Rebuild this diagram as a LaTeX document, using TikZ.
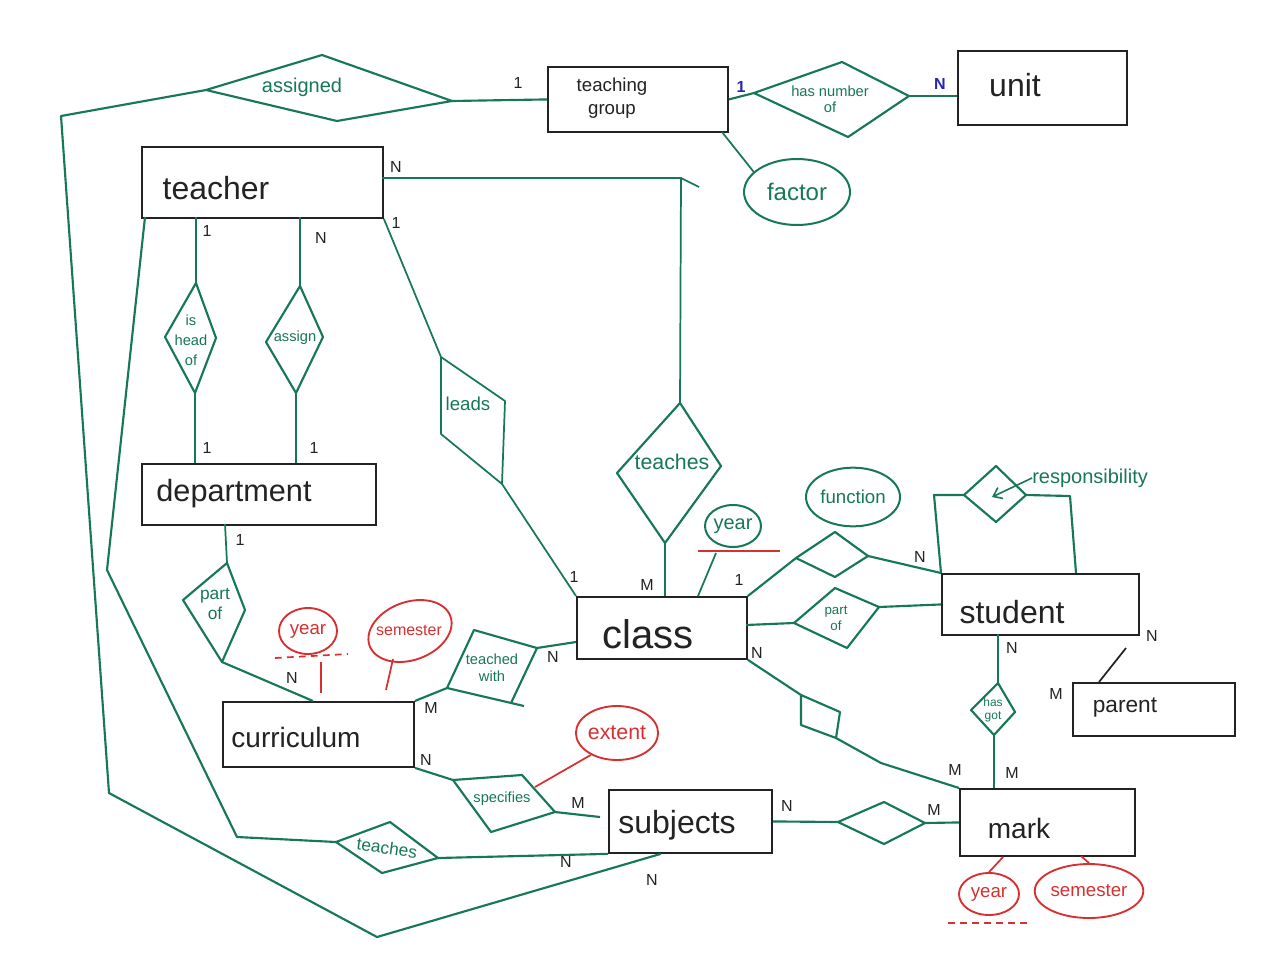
\documentclass[tikz,border=0pt]{standalone}
\usepackage{fontspec}
\setmainfont{Liberation Sans}
\usetikzlibrary{shapes.geometric,calc,arrows.meta}
\definecolor{mgreen}{RGB}{22,120,88}
\definecolor{mred}{RGB}{214,48,48}
\definecolor{mblack}{RGB}{35,35,35}
\definecolor{mblue}{RGB}{40,40,170}
\begin{document}
\begin{tikzpicture}[x=0.75pt,y=-0.75pt,
 ent/.style={draw=mblack,line width=1.4pt,rectangle,inner sep=0pt,anchor=north west},
 etxt/.style={text=mblack,inner sep=0pt},
 rel/.style={draw=mgreen,line width=1.6pt,line join=round},
 con/.style={draw=mgreen,line width=1.6pt,line join=round},
 rtxt/.style={text=mgreen,inner sep=0pt,align=center},
 card/.style={text=mblack,font=\fontsize{12}{12}\selectfont,inner sep=0pt},
 bcard/.style={text=mblue,font=\bfseries\fontsize{12}{12}\selectfont,inner sep=0pt},
 attr/.style={ellipse,draw=mgreen,line width=1.5pt,inner sep=0pt,text=mgreen},
 rattr/.style={ellipse,draw=mred,line width=1.4pt,inner sep=0pt,text=mred},
 rline/.style={draw=mred,line width=1.3pt}]
\useasboundingbox (0,0) rectangle (1280,971);
\fill[white] (0,0) rectangle (1280,971);

% ---------- entities ----------
\node[ent,minimum width=135pt,minimum height=48.75pt] (tgroup) at (547,66) {};
\node[ent,minimum width=126.75pt,minimum height=55.5pt] (unit) at (957,50) {};
\node[ent,minimum width=180.75pt,minimum height=53.25pt] (teacher) at (141,146) {};
\node[ent,minimum width=175.5pt,minimum height=45.75pt] (department) at (141,463) {};
\node[ent,minimum width=127.5pt,minimum height=46.5pt] (class) at (576,596) {};
\node[ent,minimum width=147.75pt,minimum height=45.75pt] (student) at (941,573) {};
\node[ent,minimum width=121.5pt,minimum height=39.75pt] (parent) at (1072,682) {};
\node[ent,minimum width=143.25pt,minimum height=48.75pt] (curriculum) at (222,701) {};
\node[ent,minimum width=122.25pt,minimum height=47.25pt] (subjects) at (608,789) {};
\node[ent,minimum width=131.25pt,minimum height=50.25pt] (mark) at (959,788) {};

\node[etxt,align=center,font=\fontsize{14}{17}\selectfont] (tgroupT) at (612,98) {teaching\\group};
\node[etxt,font=\fontsize{24}{24}\selectfont] (unitT) at (1015,85) {unit};
\node[etxt,font=\fontsize{24}{24}\selectfont] (teacherT) at (216,188) {teacher};
\node[etxt,font=\fontsize{23}{23}\selectfont] (departmentT) at (234,494) {department};
\node[etxt,font=\fontsize{30}{30}\selectfont] (classT) at (648,634) {class};
\node[etxt,font=\fontsize{24}{24}\selectfont] (studentT) at (1012,612) {student};
\node[etxt,font=\fontsize{17}{17}\selectfont] (parentT) at (1125,708) {parent};
\node[etxt,font=\fontsize{21}{21}\selectfont] (curriculumT) at (296,737) {curriculum};
\node[etxt,font=\fontsize{24}{24}\selectfont] (subjectsT) at (677,825) {subjects};
\node[etxt,font=\fontsize{21}{21}\selectfont] (markT) at (1019,828) {mark};

% ---------- assigned ----------
\coordinate (asgL) at (206,90); \coordinate (asgT) at (322,55);
\coordinate (asgR) at (452,101); \coordinate (asgB) at (337,121);
\draw[rel] (asgL) -- (asgT) -- (asgR) -- (asgB) -- cycle;
\node[rtxt,font=\fontsize{15}{15}\selectfont] (asgT2) at (302,87) {assigned};
\draw[con] (asgR) -- (tgroup.west);
\node[card] (c01) at (518,83) {1};
\coordinate (o1) at (61,116); \coordinate (o2) at (109,793); \coordinate (o3) at (377,937);
\coordinate (subjB) at ($(subjects.south west)!0.32!(subjects.south east)$);
\draw[con] (asgL) -- (o1) -- (o2) -- (o3) -- (subjB);
\node[card] (c02) at (652,880) {N};

% ---------- has number of ----------
\coordinate (hnL) at (754,93); \coordinate (hnT) at (842,62);
\coordinate (hnR) at (909,96); \coordinate (hnB) at (848,137);
\draw[rel] (hnL) -- (hnT) -- (hnR) -- (hnB) -- cycle;
\node[rtxt,font=\fontsize{11}{12}\selectfont] (hnTx) at (830,99) {has number\\of};
\draw[con] (tgroup.east) -- (hnL);
\draw[con] (hnR) -- (unit.west |- hnR);
\node[bcard] (c03) at (741,87) {1};
\node[bcard] (c04) at (940,84) {N};

% ---------- factor ----------
\node[attr,minimum width=79.5pt,minimum height=49.5pt,font=\fontsize{18}{18}\selectfont] (factor) at (797,192) {factor};
\coordinate (tgF) at (722,132);
\draw[con,line width=1.3pt] (tgF) -- (factor.155);

% ---------- teacher - teaches - class ----------
\coordinate (tA) at (382,178); \coordinate (tB) at (681,178); \coordinate (tBt) at (699,187);
\coordinate (tcT) at (680,403); \coordinate (tcR) at (721,466);
\coordinate (tcB) at (665,543); \coordinate (tcL) at (617,473);
\draw[rel] (tcT) -- (tcR) -- (tcB) -- (tcL) -- cycle;
\node[rtxt,font=\fontsize{16}{16}\selectfont] (tcTx) at (672,462) {teaches};
\draw[con,line width=1.3pt] (tA) -- (tB) -- (tcT);
\draw[con,line width=1.3pt] (tB) -- (tBt);
\coordinate (clT1) at (665,596);
\draw[con] (tcB) -- (clT1);
\node[card] (c05) at (396,167) {N};
\node[card] (c06) at (647,585) {M};

% ---------- is head of ----------
\coordinate (teaB1) at (196,217); \coordinate (depT1) at (195,463);
\coordinate (ihT) at (196,283); \coordinate (ihR) at (216,338);
\coordinate (ihB) at (195,393); \coordinate (ihL) at (165,337);
\draw[rel] (ihT) -- (ihR) -- (ihB) -- (ihL) -- cycle;
\node[rtxt,font=\fontsize{11}{15}\selectfont] (ihTx) at (191,340) {is\\head\\of};
\draw[con,line width=1.3pt] (teaB1) -- (ihT);
\draw[con,line width=1.3pt] (ihB) -- (depT1);
\node[card] (c07) at (207,231) {1};
\node[card] (c08) at (207,448) {1};

% ---------- assign ----------
\coordinate (teaB2) at (300,217); \coordinate (depT2) at (296,463);
\coordinate (asT) at (300,286); \coordinate (asR) at (323,337);
\coordinate (asB) at (296,393); \coordinate (asL) at (266,342);
\draw[rel] (asT) -- (asR) -- (asB) -- (asL) -- cycle;
\node[rtxt,font=\fontsize{11}{11}\selectfont] (asTx) at (295,338) {assign};
\draw[con,line width=1.3pt] (teaB2) -- (asT);
\draw[con,line width=1.3pt] (asB) -- (depT2);
\node[card] (c09) at (321,238) {N};
\node[card] (c10) at (314,448) {1};

% ---------- leads ----------
\coordinate (ldA) at (441,357); \coordinate (ldB) at (505,401);
\coordinate (ldC) at (502,484); \coordinate (ldD) at (441,434);
\draw[rel,line width=1.3pt] (ldA) -- (ldB) -- (ldC) -- (ldD) -- cycle;
\node[rtxt,font=\fontsize{14}{14}\selectfont] (ldTx) at (468,404) {leads};
\draw[con,line width=1.3pt] (teacher.south east) -- (ldA);
\draw[con,line width=1.3pt] (ldC) -- (class.north west);
\node[card] (c11) at (396,223) {1};
\node[card] (c12) at (574,577) {1};

% ---------- function ----------
\coordinate (fdT) at (835,532); \coordinate (fdR) at (868,556);
\coordinate (fdB) at (835,577); \coordinate (fdL) at (796,558);
\draw[rel] (fdT) -- (fdR) -- (fdB) -- (fdL) -- cycle;
\draw[con] (class.north east) -- (fdL);
\draw[con] (fdR) -- (student.north west);
\node[card] (c13) at (739,580) {1};
\node[card] (c14) at (920,557) {N};
\node[attr,minimum width=70.5pt,minimum height=44pt,font=\fontsize{14}{14}\selectfont] (function) at (853,497) {function};

% ---------- year (class) ----------
\node[attr,minimum width=42pt,minimum height=31.5pt,font=\fontsize{15}{15}\selectfont] (yearC) at (733,526) {year};
\coordinate (yu1) at (698,551); \coordinate (yu2) at (780,551);
\draw[rline] (yu1) -- (yu2);
\coordinate (yC1) at (716,553); \coordinate (clT2) at (698,596);
\draw[con,line width=1.3pt] (yC1) -- (clT2);

% ---------- part of (class - student) ----------
\coordinate (poA) at (794,623); \coordinate (poB) at (835,588);
\coordinate (poC) at (879,607); \coordinate (poD) at (847,648);
\draw[rel] (poA) -- (poB) -- (poC) -- (poD) -- cycle;
\node[rtxt,font=\fontsize{10}{12}\selectfont] (poTx) at (836,618) {part\\of};
\coordinate (clR1) at (746,625);
\draw[con] (clR1) -- (poA);
\draw[con] (poC) -- (student.west);

% ---------- responsibility ----------
\coordinate (rsT) at (996,466); \coordinate (rsR) at (1026,495);
\coordinate (rsB) at (996,522); \coordinate (rsL) at (964,495);
\draw[rel] (rsT) -- (rsR) -- (rsB) -- (rsL) -- cycle;
\coordinate (rl1) at (934,495); \coordinate (rr1) at (1070,496); \coordinate (rr2) at (1076,573);
\draw[con] (rsL) -- (rl1) -- (student.north west);
\draw[con] (rsR) -- (rr1) -- (rr2);
\node[rtxt,font=\fontsize{15}{15}\selectfont,anchor=west] (respT) at (1032,478) {responsibility};
\coordinate (rsIn) at (992,497);
\draw[con,line width=1.2pt,-{Straight Barb[length=6pt,width=9pt]}] (respT.west) -- (rsIn);

% ---------- has got ----------
\coordinate (stB) at (998,634); \coordinate (mkT) at (994,788);
\coordinate (hgT) at (998,683); \coordinate (hgR) at (1015,712);
\coordinate (hgB) at (994,735); \coordinate (hgL) at (971,710);
\draw[rel] (hgT) -- (hgR) -- (hgB) -- (hgL) -- cycle;
\node[rtxt,font=\fontsize{9}{10}\selectfont] (hgTx) at (993,710) {has\\got};
\draw[con,line width=1.3pt] (stB) -- (hgT);
\draw[con,line width=1.3pt] (hgB) -- (mkT);
\node[card] (c15) at (1012,648) {N};
\node[card] (c16) at (1012,773) {M};

% ---------- parent ----------
\coordinate (paT) at (1099,682); \coordinate (paE) at (1126,648);
\draw[draw=mblack,line width=1.3pt] (paT) -- (paE);
\node[card] (c17) at (1152,636) {N};
\node[card] (c18) at (1056,694) {M};

% ---------- class - mark ----------
\coordinate (cmA) at (801,695); \coordinate (cmB) at (840,712);
\coordinate (cmC) at (836,738); \coordinate (cmD) at (801,725);
\coordinate (cm1) at (881,763);
\draw[rel] (cmA) -- (cmB) -- (cmC) -- (cmD) -- cycle;
\draw[con] (class.south east) -- (cmA);
\draw[con] (cmC) -- (cm1) -- (mark.north west);
\node[card] (c19) at (757,653) {N};
\node[card] (c20) at (955,770) {M};

% ---------- subjects - mark ----------
\coordinate (smL) at (838,822); \coordinate (smT) at (884,802);
\coordinate (smR) at (925,823); \coordinate (smB) at (884,844);
\draw[rel] (smL) -- (smT) -- (smR) -- (smB) -- cycle;
\draw[con] (subjects.east) -- (smL);
\draw[con] (smR) -- (mark.west);
\node[card] (c21) at (787,806) {N};
\node[card] (c22) at (934,810) {M};

% ---------- mark attributes ----------
\node[rattr,minimum width=45pt,minimum height=31.5pt,font=\fontsize{14}{14}\selectfont] (yearM) at (989,894) {year};
\node[rattr,minimum width=70.5pt,minimum height=40.5pt,font=\fontsize{14}{14}\selectfont] (semM) at (1089,891) {semester};
\coordinate (mkY) at (1003,857);
\draw[rline] (mkY) -- (yearM.north);
\coordinate (mkS) at (1081,856);
\draw[rline] (mkS) -- (semM.north);
\coordinate (ymd1) at (948,923); \coordinate (ymd2) at (1028,923);
\draw[rline,dash pattern=on 5pt off 4pt] (ymd1) -- (ymd2);

% ---------- part of (department - curriculum) ----------
\coordinate (depB) at (225,524); \coordinate (curT) at (313,701);
\coordinate (pdT) at (227,563); \coordinate (pdR) at (245,610);
\coordinate (pdB) at (222,662); \coordinate (pdL) at (183,600);
\draw[rel] (pdT) -- (pdR) -- (pdB) -- (pdL) -- cycle;
\node[rtxt,font=\fontsize{13}{15}\selectfont] (pdTx) at (215,604) {part\\of};
\draw[con,line width=1.3pt] (depB) -- (pdT);
\draw[con] (pdB) -- (curT);
\node[card] (c23) at (240,540) {1};
\node[card] (c24) at (292,678) {N};

% ---------- curriculum attributes ----------
\node[rattr,minimum width=43.5pt,minimum height=34.5pt,font=\fontsize{14}{14}\selectfont] (yearCu) at (308,631) {year};
\node[rattr,minimum width=64.5pt,minimum height=43.5pt,rotate=20] (semCu) at (410,631) {};
\node[text=mred,inner sep=0pt,font=\fontsize{12}{12}\selectfont] (semCuT) at (409,630) {semester};
\coordinate (cyd1) at (275,658); \coordinate (cyd2) at (348,654);
\draw[rline,dash pattern=on 5pt off 4pt] (cyd1) -- (cyd2);
\coordinate (cy1) at (321,662); \coordinate (cy2) at (321,693);
\draw[rline] (cy1) -- (cy2);
\coordinate (cs1) at (393,659); \coordinate (cs2) at (386,690);
\draw[rline] (cs1) -- (cs2);

% ---------- teached with ----------
\coordinate (twA) at (447,688); \coordinate (twB) at (474,630);
\coordinate (twC) at (537,648); \coordinate (twD) at (511,703);
\coordinate (twX) at (524,706);
\draw[rel] (twA) -- (twB) -- (twC) -- (twD);
\draw[rel] (twA) -- (twX);
\node[rtxt,font=\fontsize{11}{13}\selectfont] (twTx) at (492,668) {teached\\with};
\coordinate (clL) at (576,642);
\draw[con] (curriculum.north east) -- (twA);
\draw[con] (twC) -- (clL);
\node[card] (c25) at (553,657) {N};
\node[card] (c26) at (431,708) {M};

% ---------- specifies ----------
\coordinate (spA) at (453,780); \coordinate (spB) at (522,775);
\coordinate (spC) at (555,812); \coordinate (spD) at (491,832);
\draw[rel] (spA) -- (spB) -- (spC) -- (spD) -- cycle;
\node[rtxt,font=\fontsize{11}{11}\selectfont] (spTx) at (502,799) {specifies};
\coordinate (sbL) at (600,817);
\draw[con] (curriculum.south east) -- (spA);
\draw[con] (spC) -- (sbL);
\node[card] (c27) at (426,760) {N};
\node[card] (c28) at (578,803) {M};
\node[rattr,minimum width=61.5pt,minimum height=40.5pt,font=\fontsize{16}{16}\selectfont] (extent) at (617,733) {extent};
\coordinate (ex1) at (535,787);
\draw[rline] (ex1) -- (extent.220);

% ---------- teaches (bottom) ----------
\coordinate (tbL) at (336,842); \coordinate (tbT) at (390,822);
\coordinate (tbR) at (438,858); \coordinate (tbB) at (382,873);
\draw[rel] (tbL) -- (tbT) -- (tbR) -- (tbB) -- cycle;
\node[rtxt,font=\fontsize{13}{13}\selectfont,rotate=-8] (tbTx) at (387,848) {teaches};
\coordinate (l1) at (107,570); \coordinate (l2) at (237,837);
\coordinate (teaBL) at (145,217);
\draw[con] (teaBL) -- (l1) -- (l2) -- (tbL);
\draw[con] (tbR) -- (subjects.south west);
\node[card] (c29) at (566,862) {N};
\end{tikzpicture}
\end{document}
